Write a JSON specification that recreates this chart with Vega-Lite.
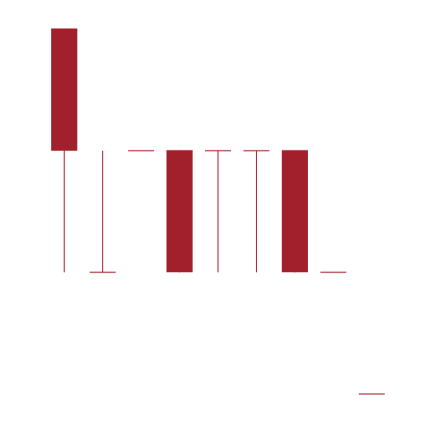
{
  "$schema": "https://vega.github.io/schema/vega-lite/v6.json",
  "width": 346,
  "height": 365,
  "autosize": {"type": "none"},
  "padding": {"left": 45, "top": 29, "right": 43, "bottom": 28},
  "background": "white",
  "config": {"view": {"stroke": null}},
  "data": {
    "values": [
      {"i": 1, "open": 3, "close": 2, "high": 3, "low": 1},
      {"i": 2, "open": 1, "close": 1, "high": 2, "low": 1},
      {"i": 3, "open": 2, "close": 2, "high": 2, "low": 2},
      {"i": 4, "open": 2, "close": 1, "high": 2, "low": 1},
      {"i": 5, "open": 2, "close": 2, "high": 2, "low": 1},
      {"i": 6, "open": 2, "close": 2, "high": 2, "low": 1},
      {"i": 7, "open": 2, "close": 1, "high": 2, "low": 1},
      {"i": 8, "open": 1, "close": 1, "high": 1, "low": 1},
      {"i": 9, "open": 0, "close": 0, "high": 0, "low": 0}
    ]
  },
  "encoding": {
    "x": {"field": "i", "type": "ordinal", "axis": null, "scale": {"paddingInner": 0.32, "paddingOuter": 0.16}}
  },
  "layer": [
    {
      "mark": {"type": "rule", "color": "#a2202c", "strokeWidth": 1},
      "encoding": {
        "y": {"field": "low", "type": "quantitative", "axis": null, "scale": {"domain": [0, 3], "nice": false, "zero": false}},
        "y2": {"field": "high"}
      }
    },
    {
      "mark": {"type": "bar", "color": "#a2202c"},
      "encoding": {
        "y": {"field": "open", "type": "quantitative"},
        "y2": {"field": "close"}
      }
    },
    {
      "mark": {"type": "tick", "color": "#a2202c", "size": 26, "thickness": 1.5, "orient": "horizontal"},
      "encoding": {
        "y": {"field": "open", "type": "quantitative"}
      }
    }
  ]
}
